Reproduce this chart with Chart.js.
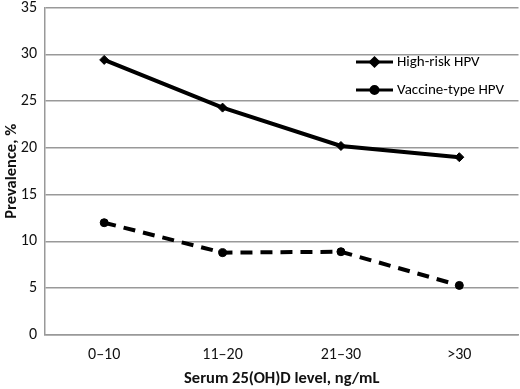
<!DOCTYPE html>
<html><head><meta charset="utf-8">
<script src="https://cdn.jsdelivr.net/npm/chart.js@4"></script>
<style>html,body{margin:0;padding:0;background:#fff}#wrap{width:520px;height:389px}</style>
</head><body><div id="wrap"><canvas id="c" width="520" height="389"></canvas></div>
<script>
const categories = ["0\u201310", "11\u201320", "21\u201330", ">30"];
const highRisk = [29.4, 24.3, 20.2, 19.0];
const vaccineType = [12.0, 8.8, 8.9, 5.3];
const seriesNames = ["High-risk HPV", "Vaccine-type HPV"];
const yTicks = [0, 5, 10, 15, 20, 25, 30, 35];
const FONT = "Carlito, Lato, 'Liberation Sans', sans-serif";

const legendPlugin = {
  id: 'insideLegend',
  afterDraw(chart) {
    const ctx = chart.ctx;
    const items = [
      {y: 62, ds: chart.data.datasets[0]},
      {y: 90, ds: chart.data.datasets[1]}
    ];
    ctx.save();
    items.forEach(it => {
      const x0 = 356, x1 = 393;
      ctx.strokeStyle = '#000';
      ctx.lineWidth = 3;
      ctx.setLineDash([]);
      ctx.beginPath(); ctx.moveTo(x0, it.y); ctx.lineTo(x1, it.y); ctx.stroke();
      ctx.fillStyle = '#000';
      Chart.helpers.drawPoint(ctx, {pointStyle: it.ds.pointStyle, radius: it.ds.pointRadius - 0.5, borderWidth: 1}, (x0 + x1) / 2, it.y);
      ctx.fillStyle = '#000';
      ctx.font = '15px ' + FONT;
      ctx.textBaseline = 'middle';
      ctx.fillText(it.ds.label, 397, it.y);
    });
    ctx.restore();
  }
};

new Chart(document.getElementById('c'), {
  type: 'line',
  data: {
    labels: categories,
    datasets: [
      {label: seriesNames[0], data: highRisk, borderColor: '#000', backgroundColor: '#000',
       borderWidth: 4, pointStyle: 'rectRot', pointRadius: 4.5, pointBorderWidth: 1, tension: 0},
      {label: seriesNames[1], data: vaccineType, borderColor: '#000', backgroundColor: '#000',
       borderWidth: 4, borderDash: [12, 8], pointStyle: 'circle', pointRadius: 4, pointBorderWidth: 1, tension: 0}
    ]
  },
  options: {
    responsive: false,
    animation: false,
    devicePixelRatio: 1,
    layout: {autoPadding: false, padding: {top: 7.5, right: 1.5, left: 2, bottom: 0}},
    plugins: {legend: {display: false}, tooltip: {enabled: false}},
    scales: {
      x: {
        offset: true,
        afterFit(axis) { axis.height = 54; axis.paddingLeft = 0; axis.paddingRight = 0; },
        grid: {display: false, drawTicks: false},
        border: {color: '#999', width: 1.5},
        ticks: {color: '#111', font: {family: FONT, size: 16}, padding: 10},
        title: {display: true, text: 'Serum 25(OH)D level, ng/mL', color: '#111',
                font: {family: FONT, size: 16.5, weight: 'bold'}, padding: {top: 4, bottom: 0}}
      },
      y: {
        min: 0, max: 35,
        afterFit(axis) { axis.width = 43; axis.paddingTop = 0; axis.paddingBottom = 0; },
        afterBuildTicks(axis) { axis.ticks = yTicks.map(v => ({value: v})); },
        grid: {color: '#999', lineWidth: 1.5, drawTicks: false},
        border: {color: '#999', width: 1.5},
        ticks: {color: '#111', font: {family: FONT, size: 16}, padding: 8},
        title: {display: true, text: 'Prevalence, %', color: '#111',
                font: {family: FONT, size: 16.5, weight: 'bold'}, padding: {top: 0, bottom: 1}}
      }
    }
  },
  plugins: [legendPlugin]
});
</script></body></html>
